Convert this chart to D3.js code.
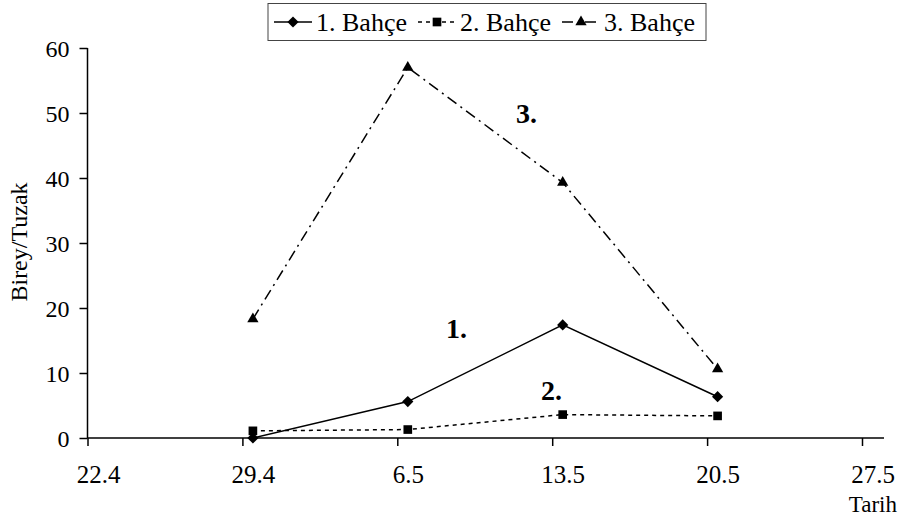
<!DOCTYPE html>
<html>
<head>
<meta charset="utf-8">
<script src="https://cdn.jsdelivr.net/npm/d3@7"></script>
<style>
	body { margin: 0; background: #fff; }
	svg text { font-family: "Liberation Serif", "Times New Roman", serif; fill: #000; }
</style>
</head>
<body>
<svg id="chart" width="907" height="521"></svg>
<script>
// sampling dates (day.month) and the axis tick labels
var tickDates = ['22.4', '29.4', '6.5', '13.5', '20.5', '27.5'];
var sampleDates = ['29.4', '6.5', '13.5', '20.5'];
var seriesNames = ['1. Bahçe', '2. Bahçe', '3. Bahçe'];
var bahce1 = [0, 5.6, 17.4, 6.35];
var bahce2 = [1.1, 1.3, 3.6, 3.4];
var bahce3 = [18.3, 57, 39.3, 10.6];
var yTicks = [0, 10, 20, 30, 40, 50, 60];

var svg = d3.select('#chart');
var plotLeft = 87.5, plotRight = 862, plotTop = 48, plotBottom = 438;
// labels and points sit a bit to the right of each tick line
var shift = 10.5;

var x = d3.scalePoint().domain(tickDates).range([plotLeft, plotRight]);
var y = d3.scaleLinear().domain([0, 60]).range([plotBottom, plotTop]);

var series = [
	{ name: seriesNames[0], values: bahce1, dash: null, marker: d3.symbolDiamond2, size: 80 },
	{ name: seriesNames[1], values: bahce2, dash: '4,4', marker: d3.symbolSquare, size: 75 },
	{ name: seriesNames[2], values: bahce3, dash: '11,5,2,5', marker: d3.symbolTriangle, size: 55 }
];

// y axis
var yAxis = d3.axisLeft(y).tickValues(yTicks).tickSize(8).tickPadding(10);
var gy = svg.append('g').attr('transform', 'translate(' + plotLeft + ',0)').call(yAxis);
gy.select('.domain').attr('stroke', '#000').attr('stroke-width', 1.5).attr('d', 'M0,' + plotTop + 'V' + plotBottom);
gy.selectAll('.tick line').attr('stroke', '#000').attr('stroke-width', 1.5);
gy.selectAll('.tick text').style('font-size', '24px').attr('dy', '0.34em');

// x axis
var xAxis = d3.axisBottom(x).tickSize(8).tickPadding(12);
var gx = svg.append('g').attr('transform', 'translate(0,' + plotBottom + ')').call(xAxis);
gx.select('.domain').attr('stroke', '#000').attr('stroke-width', 1.5).attr('d', 'M' + plotLeft + ',0H884');
gx.selectAll('.tick line').attr('stroke', '#000').attr('stroke-width', 1.5);
gx.selectAll('.tick text').style('font-size', '25px').attr('x', shift).attr('dy', '1.0em');

svg.append('text').attr('x', 897).attr('y', 512).attr('text-anchor', 'end')
	.style('font-size', '23px').text('Tarih');
svg.append('text').attr('transform', 'translate(27,242) rotate(-90)').attr('text-anchor', 'middle')
	.style('font-size', '24px').text('Birey/Tuzak');

// lines and markers
var line = d3.line()
	.x(function(d, i) { return x(sampleDates[i]) + shift; })
	.y(function(d) { return y(d); });

series.forEach(function(s) {
	svg.append('path')
		.attr('d', line(s.values))
		.attr('fill', 'none')
		.attr('stroke', '#000')
		.attr('stroke-width', 1.5)
		.attr('stroke-dasharray', s.dash);
	svg.selectAll(null).data(s.values).enter().append('path')
		.attr('d', d3.symbol().type(s.marker).size(s.size))
		.attr('transform', function(d, i) { return 'translate(' + (x(sampleDates[i]) + shift) + ',' + y(d) + ')'; })
		.attr('fill', '#000');
});

// series labels on the plot
var tags = [
	{ t: '1.', x: 446, y: 338 },
	{ t: '2.', x: 541, y: 400 },
	{ t: '3.', x: 516, y: 123 }
];
svg.selectAll('.tag').data(tags).enter().append('text')
	.attr('class', 'tag')
	.attr('x', function(d) { return d.x; })
	.attr('y', function(d) { return d.y; })
	.style('font-size', '28px').style('font-weight', 'bold')
	.text(function(d) { return d.t; });

// legend
var lg = svg.append('g');
lg.append('rect').attr('x', 268).attr('y', 3.5).attr('width', 438).attr('height', 37)
	.attr('fill', '#fff').attr('stroke', '#444').attr('stroke-width', 1);
var itemX = [274, 418, 562];
series.forEach(function(s, i) {
	var g = lg.append('g').attr('transform', 'translate(' + itemX[i] + ',22)');
	g.append('line').attr('x1', 0).attr('x2', 38).attr('y1', 0).attr('y2', 0)
		.attr('stroke', '#000').attr('stroke-width', 1.5).attr('stroke-dasharray', s.dash);
	g.append('path').attr('d', d3.symbol().type(s.marker).size(s.size))
		.attr('transform', 'translate(19,0)').attr('fill', '#000');
	g.append('text').attr('x', 42).attr('y', 9).style('font-size', '26px').text(s.name);
});
</script>
</body>
</html>
